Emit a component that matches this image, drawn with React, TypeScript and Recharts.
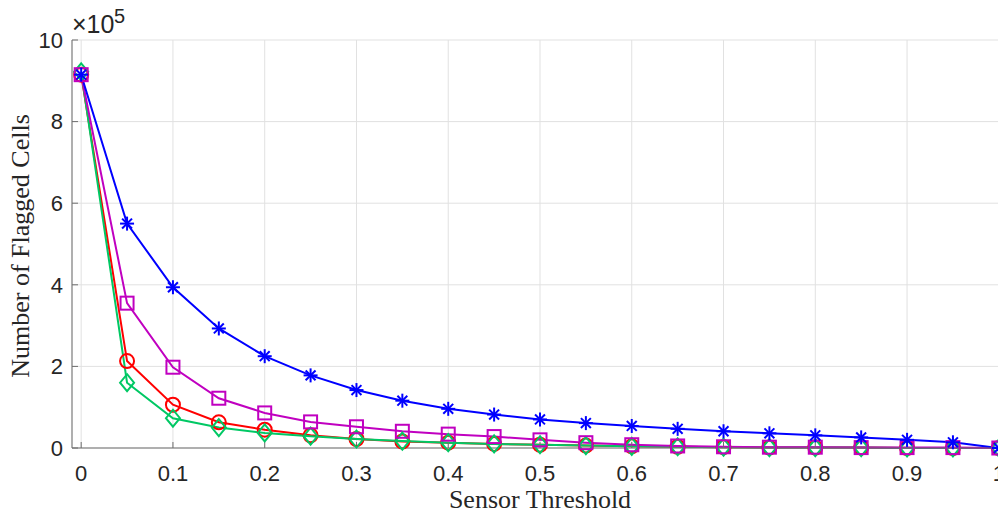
import React from 'react';
import { LineChart, Line, XAxis, YAxis, CartesianGrid } from 'recharts';

// sensor threshold values on the x axis
const thresholds = [0, 0.05, 0.1, 0.15, 0.2, 0.25, 0.3, 0.35, 0.4, 0.45, 0.5, 0.55, 0.6, 0.65, 0.7, 0.75, 0.8, 0.85, 0.9, 0.95, 1];

// flagged cell counts, one array per curve (marker shape in the name)
const starCounts = [915000, 550000, 394000, 293000, 225000, 178000, 142000, 116000, 96000, 82000, 70000, 61000, 54000, 47000, 41000, 36000, 31000, 26000, 20000, 14000, 0];
const squareCounts = [915000, 355000, 198000, 122000, 86000, 64000, 52000, 41000, 34000, 28000, 20000, 13000, 8000, 5000, 3000, 2000, 2000, 1000, 1000, 1000, 0];
const circleCounts = [915000, 213000, 106000, 63000, 45000, 31000, 22000, 16000, 13000, 10000, 8000, 6000, 4000, 3000, 2000, 1000, 1000, 1000, 0, 0, 0];
const diamondCounts = [922000, 160000, 73000, 50000, 37000, 29000, 22000, 17000, 13000, 10000, 8000, 6000, 4000, 3000, 2000, 1000, 1000, 1000, 0, 0, 0];

const xTicks = [0, 0.1, 0.2, 0.3, 0.4, 0.5, 0.6, 0.7, 0.8, 0.9, 1];
const yTicks = [0, 200000, 400000, 600000, 800000, 1000000];

const data = thresholds.map((x, i) => ({
  x,
  star: starCounts[i],
  square: squareCounts[i],
  circle: circleCounts[i],
  diamond: diamondCounts[i],
}));

const AXIS = '#6e6e6e';
const sans = '"Liberation Sans", Arial, sans-serif';
const serif = '"Liberation Serif", "Times New Roman", serif';
const tickStyle = { fill: '#262626', fontSize: 22, fontFamily: sans };

const StarDot = (p: any) => {
  const { cx, cy, stroke } = p;
  if (cx == null || cy == null) return null;
  const r = 7;
  const d = r * 0.707;
  return (
    <g stroke={stroke} strokeWidth={2} key={p.key}>
      <line x1={cx - r} y1={cy} x2={cx + r} y2={cy} />
      <line x1={cx} y1={cy - r} x2={cx} y2={cy + r} />
      <line x1={cx - d} y1={cy - d} x2={cx + d} y2={cy + d} />
      <line x1={cx - d} y1={cy + d} x2={cx + d} y2={cy - d} />
    </g>
  );
};

const SquareDot = (p: any) => {
  const { cx, cy, stroke } = p;
  if (cx == null || cy == null) return null;
  return <rect key={p.key} x={cx - 6.5} y={cy - 6.5} width={13} height={13} fill="none" stroke={stroke} strokeWidth={2} />;
};

const CircleDot = (p: any) => {
  const { cx, cy, stroke } = p;
  if (cx == null || cy == null) return null;
  return <circle key={p.key} cx={cx} cy={cy} r={7} fill="none" stroke={stroke} strokeWidth={2} />;
};

const DiamondDot = (p: any) => {
  const { cx, cy, stroke } = p;
  if (cx == null || cy == null) return null;
  return (
    <polygon
      key={p.key}
      points={`${cx},${cy - 8.5} ${cx + 7},${cy} ${cx},${cy + 8.5} ${cx - 7},${cy}`}
      fill="none"
      stroke={stroke}
      strokeWidth={2}
    />
  );
};

const XLabel = (props: any) => {
  const vb = props.viewBox;
  return (
    <text x={vb.x + vb.width / 2} y={vb.y + 60} textAnchor="middle" fontFamily={serif} fontSize={26} fill="#262626">
      Sensor Threshold
    </text>
  );
};

const YLabel = (props: any) => {
  const vb = props.viewBox;
  const cx = 29;
  const cy = vb.y + vb.height / 2 + 2;
  return (
    <text x={cx} y={cy} transform={`rotate(-90 ${cx} ${cy})`} textAnchor="middle" fontFamily={serif} fontSize={26} fill="#262626">
      Number of Flagged Cells
    </text>
  );
};

export default function App() {
  return (
    <div style={{ position: 'absolute', left: 0, top: 0, width: 998, height: 515, overflow: 'hidden', background: '#fff' }}>
      <LineChart width={1008} height={515} data={data} margin={{ top: 40, right: 0, bottom: 0, left: 0 }}>
        <CartesianGrid stroke="#e1e1e1" strokeWidth={1} />
        <XAxis
          xAxisId="top"
          orientation="top"
          dataKey="x"
          type="number"
          domain={[-0.01, 1.01]}
          ticks={xTicks}
          allowDataOverflow
          height={0}
          tick={false}
          tickSize={-6}
          stroke={AXIS}
        />
        <XAxis
          dataKey="x"
          type="number"
          domain={[-0.01, 1.01]}
          ticks={xTicks}
          allowDataOverflow
          height={67}
          tick={tickStyle}
          fontSize={22}
          fontFamily={sans}
          tickSize={-6}
          tickMargin={23}
          stroke={AXIS}
          tickFormatter={(v: number) => String(v)}
          label={XLabel}
        />
        <YAxis
          type="number"
          domain={[0, 1000000]}
          ticks={yTicks}
          width={72}
          tick={tickStyle}
          fontSize={22}
          fontFamily={sans}
          tickSize={-6}
          tickMargin={15}
          stroke={AXIS}
          tickFormatter={(v: number) => String(v / 100000)}
          label={YLabel}
        />
        <Line dataKey="circle" stroke="#ff0000" strokeWidth={2} dot={CircleDot} activeDot={false} isAnimationActive={false} />
        <Line dataKey="diamond" stroke="#00c864" strokeWidth={2} dot={DiamondDot} activeDot={false} isAnimationActive={false} />
        <Line dataKey="square" stroke="#c000c0" strokeWidth={2} dot={SquareDot} activeDot={false} isAnimationActive={false} />
        <Line dataKey="star" stroke="#0000ff" strokeWidth={2} dot={StarDot} activeDot={false} isAnimationActive={false} />
      </LineChart>
      <svg width={200} height={40} style={{ position: 'absolute', left: 0, top: 0, pointerEvents: 'none' }}>
        <text x={72} y={33} fontFamily={sans} fontSize={25} fill="#262626">×10</text>
        <text x={114} y={23} fontFamily={sans} fontSize={20} fill="#262626">5</text>
      </svg>
    </div>
  );
}
